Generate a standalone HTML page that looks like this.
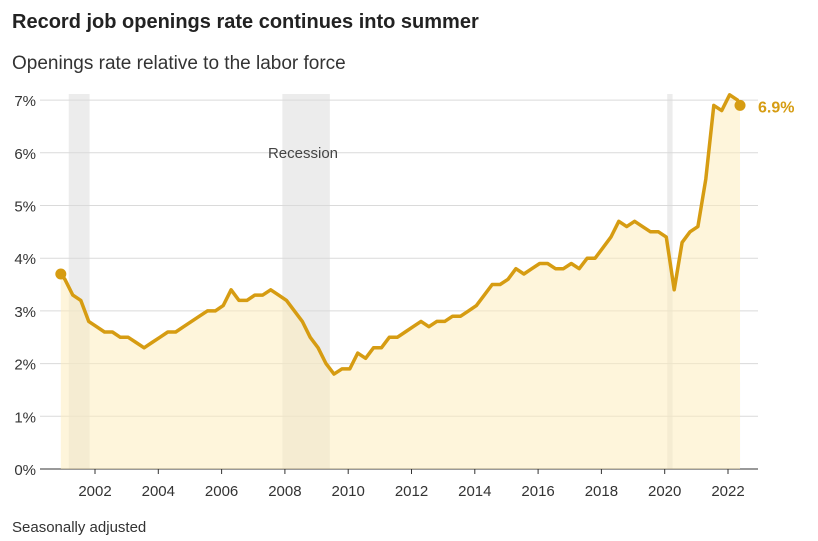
<!DOCTYPE html>
<html><head><meta charset="utf-8"><style>
body{margin:0;background:#fff;font-family:"Liberation Sans",sans-serif;}
svg{display:block}
</style></head><body>
<svg width="818" height="541" viewBox="0 0 818 541" id="c">
<text x="12" y="28" font-size="20" font-weight="bold" fill="#222">Record job openings rate continues into summer</text>
<text x="12" y="69" font-size="19" fill="#333">Openings rate relative to the labor force</text>
<text x="12" y="532" font-size="15" fill="#333">Seasonally adjusted</text>
<g id="rec"></g><g id="grid"></g><g id="area"></g>
</svg>
<script>
const recessions=[[2001.17,2001.83],[2007.92,2009.42],[2020.08,2020.25]];
const yTicks=[0,1,2,3,4,5,6,7];
const xTicks=[2002,2004,2006,2008,2010,2012,2014,2016,2018,2020,2022];
const firstDate=2000.92;
const lastDate=2022.38;
const rates=[3.7,
3.6,3.3,3.2,2.8, 2.7,2.6,2.6,2.5, 2.5,2.4,2.3,2.4, 2.5,2.6,2.6,2.7, 2.8,2.9,3.0,3.0,
3.1,3.4,3.2,3.2, 3.3,3.3,3.4,3.3, 3.2,3.0,2.8,2.5, 2.3,2.0,1.8,1.9, 1.9,2.2,2.1,2.3,
2.3,2.5,2.5,2.6, 2.7,2.8,2.7,2.8, 2.8,2.9,2.9,3.0, 3.1,3.3,3.5,3.5, 3.6,3.8,3.7,3.8,
3.9,3.9,3.8,3.8, 3.9,3.8,4.0,4.0, 4.2,4.4,4.7,4.6, 4.7,4.6,4.5,4.5, 4.4,3.4,4.3,4.5,
4.6,5.5,6.9,6.8, 7.1,7.0, 6.9];
const X=t=>95+(t-2002)*31.65, Y=v=>469-v*52.7;
const ns='http://www.w3.org/2000/svg';
function mk(tag,parent,attrs){const e=document.createElementNS(ns,tag);for(const k in attrs)e.setAttribute(k,attrs[k]);document.getElementById(parent).appendChild(e);return e;}
recessions.forEach(r=>{const e=mk('rect','rec',{x:X(r[0]),y:94,width:X(r[1])-X(r[0]),height:375,fill:'#ececec'});

});
yTicks.forEach(v=>{const l=mk('line','grid',{x1:40,x2:758,y1:Y(v),y2:Y(v),stroke:v===0?'#333':'#dadada','stroke-width':1});


const t=mk('text','grid',{x:36,y:Y(v)+6,'text-anchor':'end','font-size':15,fill:'#333'});t.textContent=v+'%';

});
xTicks.forEach(y=>{const t=mk('text','grid',{x:X(y),y:496,'text-anchor':'middle','font-size':15,fill:'#333'});t.textContent=y;


const k=mk('line','grid',{x1:X(y),x2:X(y),y1:469,y2:474,stroke:'#333'});

});
const rt=mk('text','grid',{x:303,y:158,'text-anchor':'middle','font-size':15,fill:'#444'});rt.textContent='Recession';


const n=rates.length;
const tm=i=>i===0?firstDate:(i===n-1?lastDate:2001.05+(i-1)*0.25);
const pts=rates.map((v,i)=>[X(tm(i)),Y(v)]);
const d='M'+pts.map(p=>p[0].toFixed(1)+','+p[1].toFixed(1)).join('L');
const a=mk('path','area',{d:d+'L'+pts[n-1][0]+',469L'+pts[0][0]+',469Z',fill:'rgba(253,236,190,0.55)'});


const ln=mk('path','area',{d:d,fill:'none',stroke:'#d69c12','stroke-width':3.5,'stroke-linejoin':'round'});


[0,n-1].forEach(i=>{const c=mk('circle','area',{cx:pts[i][0],cy:pts[i][1],r:5.5,fill:'#d69c12'});

});
const lb=mk('text','area',{x:758,y:pts[n-1][1]+7,'font-size':16,'font-weight':'bold',fill:'#d69c12'});lb.textContent=rates[n-1].toFixed(1)+'%';


</script>
</body></html>
